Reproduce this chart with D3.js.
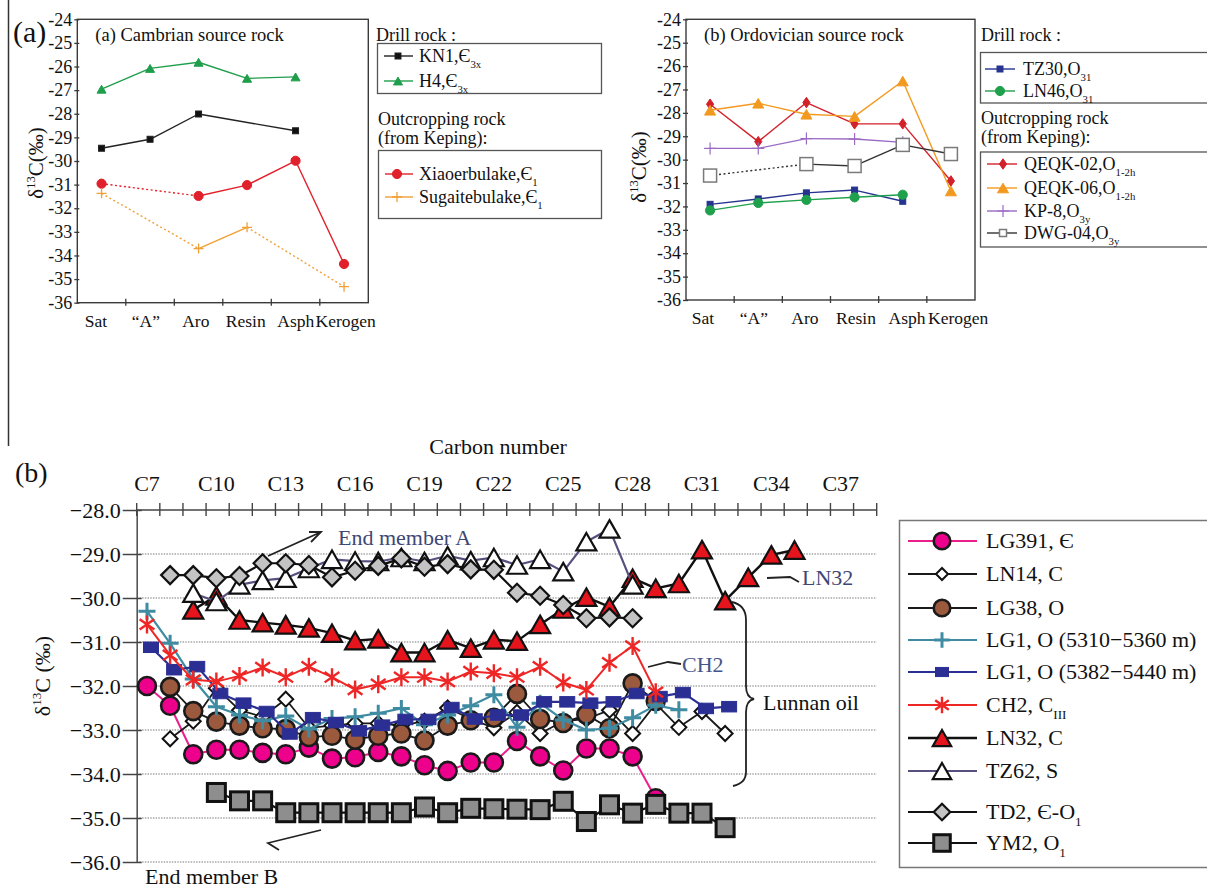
<!DOCTYPE html>
<html>
<head>
<meta charset="utf-8">
<script src="https://cdn.jsdelivr.net/npm/d3@7"></script>
<style>
  body { margin: 0; background: #fff; }
  svg { display: block; }
</style>
</head>
<body>
<svg id="fig" width="1207" height="888"></svg>
<script>
// ---------------- data: bulk-fraction isotopes ----------------
const fractions = ["Sat", "\u201cA\u201d", "Aro", "Resin", "Asph", "Kerogen"];
const fractionTicks = [-24, -25, -26, -27, -28, -29, -30, -31, -32, -33, -34, -35, -36];

// Cambrian source rock (null = not measured)
const kn1 = [-29.46, -29.08, -28.01, null, -28.72, null];
const h4 = [-26.96, -26.08, -25.82, -26.5, -26.44, null];
const xiaoerbulake = [-30.96, null, -31.48, -31.02, -29.99, -34.36];
const sugaitebulake = [-31.37, null, -33.71, -32.81, null, -35.32];

// Ordovician source rock
const tz30 = [-31.91, -31.68, -31.42, -31.30, -31.78, null];
const ln46 = [-32.17, -31.85, -31.72, -31.61, -31.50, null];
const qeqk02 = [-27.63, -29.23, -27.56, -28.47, -28.47, -30.91];
const qeqk06 = [-27.89, -27.59, -28.06, -28.15, -26.64, -31.34];
const kp8 = [-29.52, -29.52, -29.10, -29.12, -29.26, null];
const dwg04 = [-30.68, null, -30.19, -30.27, -29.37, -29.76];

// ---------------- data: n-alkane isotopes by carbon number ----------------
const carbonLabels = [7, 10, 13, 16, 19, 22, 25, 28, 31, 34, 37];
const deltaTicks = [-28, -29, -30, -31, -32, -33, -34, -35, -36];

const lg391From = 7;
const lg391 = [-32.0, -32.45, -33.55, -33.45, -33.45, -33.52, -33.55, -33.4, -33.65, -33.62, -33.5, -33.6,
               -33.8, -33.93, -33.74, -33.74, -33.25, -33.6, -33.92, -33.42, -33.42, -33.6, -34.55];
const ln14From = 8;
const ln14 = [-33.2, -32.8, -32.05, -32.55, -32.7, -32.3, -32.95, -32.9, -32.85, -32.85, -32.9, -32.8,
              -32.5, -32.75, -32.95, -32.6, -33.08, -32.8, -32.75, -32.55, -33.08, -32.4, -32.94, -32.58, -33.08];
const lg38From = 8;
const lg38 = [-32.02, -32.57, -32.81, -32.9, -32.96, -32.98, -33.16, -33.13, -33.22, -33.13, -33.08,
              -33.24, -32.9, -32.78, -32.72, -32.18, -32.75, -32.84, -32.65, -32.96, -31.94, -32.34];
const lg1UpperFrom = 7;
const lg1Upper = [-30.3, -31.03, -31.84, -32.47, -32.66, -32.79, -32.68, -32.98, -32.74, -32.7, -32.62, -32.51,
                  -32.88, -32.66, -32.45, -32.2, -32.94, -32.39, -32.77, -33.0, -32.96, -32.72, -32.44, -32.54];
const lg1LowerFrom = 7;
const lg1Lower = [-31.12, -31.63, -31.56, -32.17, -32.39, -32.58, -33.09, -32.72, -32.83, -33.02, -32.89, -32.76,
                  -32.76, -32.49, -32.75, -32.66, -32.66, -32.36, -32.36, -32.39, -32.36, -32.17, -32.24, -32.15,
                  -32.51, -32.47];
const ch2From = 7;
const ch2 = [-30.6, -31.3, -31.86, -31.9, -31.77, -31.58, -31.8, -31.56, -31.8, -32.08, -31.96, -31.8,
             -31.8, -31.9, -31.67, -31.71, -31.8, -31.56, -31.92, -32.09, -31.47, -31.09, -32.14];
const ln32From = 9;
const ln32 = [-30.27, -29.95, -30.5, -30.56, -30.61, -30.68, -30.8, -30.97, -30.93, -31.24, -31.24, -30.95,
              -31.14, -30.95, -30.98, -30.6, -30.25, -29.98, -30.2, -29.55, -29.78, -29.67, -28.9, -30.06,
              -29.53, -29.02, -28.91];
const tz62From = 9;
const tz62 = [-29.89, -30.08, -29.7, -29.6, -29.55, -29.33, -29.12, -29.16, -29.17, -29.08, -29.17, -29.04,
              -29.15, -29.08, -29.25, -29.12, -29.4, -28.72, -28.43, -29.7];
const td2From = 8;
const td2 = [-29.48, -29.48, -29.55, -29.5, -29.21, -29.21, -29.25, -29.53, -29.38, -29.27, -29.1, -29.29,
             -29.23, -29.35, -29.36, -29.88, -29.95, -30.16, -30.46, -30.44, -30.46];
const ym2From = 10;
const ym2 = [-34.42, -34.61, -34.61, -34.88, -34.88, -34.88, -34.88, -34.88, -34.88, -34.75, -34.88, -34.78,
             -34.79, -34.8, -34.81, -34.62, -35.08, -34.7, -34.89, -34.69, -34.89, -34.89, -35.22];

// ---------------- drawing helpers ----------------
const SERIF = "'Liberation Serif', 'Times New Roman', serif";
const svg = d3.select("#fig");

function drawMarker(g, type, x, y, s, st) {
  let el;
  const h = s * 1.75;
  switch (type) {
    case "circle":
      el = g.append("circle").attr("cx", x).attr("cy", y).attr("r", s); break;
    case "square":
      el = g.append("rect").attr("x", x - s).attr("y", y - s).attr("width", 2 * s).attr("height", 2 * s); break;
    case "rect":
      el = g.append("rect").attr("x", x - s).attr("y", y - s * 0.7).attr("width", 2 * s).attr("height", 1.4 * s); break;
    case "diamond":
      el = g.append("path").attr("d", `M${x},${y - s}L${x + s},${y}L${x},${y + s}L${x - s},${y}Z`); break;
    case "diamondTall":
      el = g.append("path").attr("d", `M${x},${y - s * 1.45}L${x + s},${y}L${x},${y + s * 1.45}L${x - s},${y}Z`); break;
    case "triangle":
      el = g.append("path").attr("d", `M${x},${y - h / 2}L${x + s},${y + h / 2}L${x - s},${y + h / 2}Z`); break;
    case "plus":
      el = g.append("path").attr("d", `M${x - s},${y}H${x + s}M${x},${y - s}V${y + s}`); break;
    case "asterisk": {
      let d = `M${x},${y - s}V${y + s}`;
      [35, -35].forEach(a => {
        const r = a * Math.PI / 180, dx = Math.cos(r) * s, dy = Math.sin(r) * s;
        d += `M${x - dx},${y - dy}L${x + dx},${y + dy}`;
      });
      el = g.append("path").attr("d", d); break;
    }
  }
  el.attr("fill", st.fill || "none")
    .attr("stroke", st.stroke)
    .attr("stroke-width", st.sw)
    .attr("stroke-linejoin", "miter");
}

// text with sub/superscript parts: [[string, "sub"|"sup"|undefined], ...]
function rich(t, parts, fs) {
  let shift = 0;
  parts.forEach(([s, k]) => {
    const target = k === "sub" ? fs * 0.32 : k === "sup" ? -fs * 0.4 : 0;
    t.append("tspan").attr("dy", target - shift).attr("font-size", k ? fs * 0.6 : fs).text(s);
    shift = target;
  });
  return t;
}

function label(g, x, y, parts, fs, opts = {}) {
  const t = g.append("text").attr("x", x).attr("y", y)
    .attr("font-family", SERIF).attr("font-size", fs)
    .attr("fill", opts.fill || "#111")
    .attr("text-anchor", opts.anchor || "start");
  if (opts.italic) t.attr("font-style", "italic");
  if (opts.rotate) t.attr("transform", `rotate(${opts.rotate},${x},${y})`);
  return rich(t, typeof parts === "string" ? [[parts]] : parts, fs);
}

// ---------------- upper panels ----------------
function fractionPanel(p) {
  const g = svg.append("g");
  const x = d3.scaleBand().domain(fractions).range([p.left, p.right]);
  const cx = f => x(f) + x.bandwidth() / 2;
  const y = d3.scaleLinear().domain([-36, -24]).range([p.bottom, p.top]);

  g.append("rect").attr("x", p.left).attr("y", p.top)
    .attr("width", p.right - p.left).attr("height", p.bottom - p.top)
    .attr("fill", "none").attr("stroke", "#3a3a3a").attr("stroke-width", 1.4);

  const ya = g.append("g").attr("transform", `translate(${p.left},0)`)
    .call(d3.axisLeft(y).tickValues(fractionTicks).tickSize(3).tickPadding(2).tickFormat(d => String(d)));
  ya.attr("font-family", SERIF).attr("font-size", 18);
  ya.select(".domain").remove();
  ya.selectAll(".tick line").attr("stroke", "#3a3a3a").attr("stroke-width", 1.3).attr("x1", 2);
  ya.selectAll(".tick text").attr("fill", "#111");

  // fraction boundaries on the bottom edge
  fractions.slice(1).forEach(f => {
    g.append("line").attr("x1", x(f)).attr("x2", x(f))
      .attr("y1", p.bottom - 4).attr("y2", p.bottom + 3)
      .attr("stroke", "#3a3a3a").attr("stroke-width", 1.3);
  });
  // category names sit slightly wider apart than the bands
  const mid = (p.left + p.right) / 2 + p.labelShift;
  fractions.forEach(f => label(g, mid + (cx(f) - (p.left + p.right) / 2) * p.labelSpread, p.bottom + 24, f, 17.5,
    { anchor: "middle" }));

  label(g, p.left + 18, 41, p.title, 18.5);
  label(g, p.ytitleX, p.ytitleY, [["\u03b4"], ["13", "sup"], ["C(\u2030)"]], 21, { anchor: "middle", rotate: -90 });

  p.series.forEach(s => {
    const pts = s.values.map((v, i) => ({ i, v })).filter(d => d.v !== null);
    const line = d3.line().x(d => cx(fractions[d.i])).y(d => y(d.v));
    for (let k = 1; k < pts.length; k++) {
      const a = pts[k - 1], b = pts[k];
      const dotted = s.gapDotted && b.i - a.i > 1;
      g.append("path").attr("d", line([a, b])).attr("fill", "none")
        .attr("stroke", s.color).attr("stroke-width", 1.4)
        .attr("stroke-dasharray", dotted ? "2,2.5" : null);
    }
    pts.forEach(d => drawMarker(g, s.marker, cx(fractions[d.i]), y(d.v), s.size,
      { fill: s.fill, stroke: s.mstroke || s.color, sw: s.msw || 1 }));
  });

  // legends
  p.legends.forEach(L => {
    if (L.heading) L.heading.forEach((h, k) => label(g, L.hx, L.hy + k * 19, h, 18));
    g.append("rect").attr("x", L.box[0]).attr("y", L.box[1]).attr("width", L.box[2]).attr("height", L.box[3])
      .attr("fill", "none").attr("stroke", "#555").attr("stroke-width", 1.3);
    L.items.forEach((it, k) => {
      const s = p.series[it.series];
      const yy = L.rows[k];
      g.append("line").attr("x1", L.lx[0]).attr("x2", L.lx[1]).attr("y1", yy).attr("y2", yy)
        .attr("stroke", s.color).attr("stroke-width", 1.4);
      drawMarker(g, s.marker, L.mx, yy, s.legendSize || s.size,
        { fill: s.legendFill || s.fill, stroke: s.mstroke || s.color, sw: s.msw || 1 });
      label(g, L.tx, yy + 6, it.text, 18);
    });
  });
}

fractionPanel({
  left: 77.3, right: 368.3, top: 19.3, bottom: 302.7, labelSpread: 1.03, labelShift: -2,
  title: "(a) Cambrian source rock", ytitleX: 43, ytitleY: 163,
  series: [
    { values: kn1, color: "#222", marker: "square", size: 3, fill: "#111", gapDotted: false },
    { values: h4, color: "#1f9e4b", marker: "triangle", size: 4.5, fill: "#1f9e4b" },
    { values: xiaoerbulake, color: "#e0202a", marker: "circle", size: 4.6, fill: "#e0202a", gapDotted: true },
    { values: sugaitebulake, color: "#f0a035", marker: "plus", size: 5, msw: 1.3, gapDotted: true }
  ],
  legends: [
    { heading: ["Drill rock :"], hx: 376, hy: 41, box: [377.5, 43.5, 224, 50],
      rows: [56, 81], lx: [384, 413], mx: 398, tx: 419,
      items: [{ series: 0, text: [["KN1,\u0404"], ["3x", "sub"]] }, { series: 1, text: [["H4,\u0404"], ["3x", "sub"]] }] },
    { heading: ["Outcropping rock", "(from Keping):"], hx: 378, hy: 125, box: [378.5, 150.5, 223, 68],
      rows: [174, 197], lx: [385, 413], mx: 397, tx: 419,
      items: [{ series: 2, text: [["Xiaoerbulake,\u0404"], ["1", "sub"]] }, { series: 3, text: [["Sugaitebulake,\u0404"], ["1", "sub"]] }] }
  ]
});

fractionPanel({
  left: 686, right: 975, top: 19.3, bottom: 300, labelSpread: 1.06, labelShift: 0,
  title: "(b) Ordovician source rock", ytitleX: 646, ytitleY: 167,
  series: [
    { values: tz30, color: "#27348f", marker: "square", size: 3, fill: "#27348f", gapDotted: true },
    { values: ln46, color: "#1fa04d", marker: "circle", size: 4.6, fill: "#1fa04d", gapDotted: true },
    { values: qeqk02, color: "#d3212a", marker: "diamondTall", size: 3.6, fill: "#d3212a", gapDotted: true },
    { values: qeqk06, color: "#f29a1f", marker: "triangle", size: 5.5, fill: "#f29a1f", gapDotted: true },
    { values: kp8, color: "#9a6bc4", marker: "plus", size: 6, msw: 1.2, gapDotted: true },
    { values: dwg04, color: "#333", marker: "square", size: 6.5, fill: "#fff", mstroke: "#7a7a7a", msw: 1.5,
      legendSize: 3.5, gapDotted: true }
  ],
  legends: [
    { heading: ["Drill rock :"], hx: 981, hy: 41, box: [980.5, 52.5, 240, 50.5],
      rows: [69, 91], lx: [985, 1015], mx: 1000, tx: 1023,
      items: [{ series: 0, text: [["TZ30,O"], ["31", "sub"]] }, { series: 1, text: [["LN46,O"], ["31", "sub"]] }] },
    { heading: ["Outcropping rock", "(from Keping):"], hx: 981, hy: 124, box: [980.5, 152, 240, 95],
      rows: [164, 188, 211, 233], lx: [987, 1017], mx: 1003, tx: 1024,
      items: [{ series: 2, text: [["QEQK-02,O"], ["1-2h", "sub"]] }, { series: 3, text: [["QEQK-06,O"], ["1-2h", "sub"]] },
              { series: 4, text: [["KP-8,O"], ["3y", "sub"]] }, { series: 5, text: [["DWG-04,O"], ["3y", "sub"]] }] }
  ]
});

// panel letters and frame line
label(svg, 13, 42, "(a)", 30);
svg.append("line").attr("x1", 8.5).attr("x2", 8.5).attr("y1", 0).attr("y2", 446)
  .attr("stroke", "#333").attr("stroke-width", 1.5);
label(svg, 15, 482, "(b)", 28);

// ---------------- lower panel: n-alkanes ----------------
const bx = d3.scaleLinear().domain([6.555, 38.555]).range([136.7, 876.7]);
const by = d3.scaleLinear().domain([-36, -28]).range([862, 510]);
const lower = svg.append("g");

// dotted grid
deltaTicks.filter(v => v !== -28).forEach(v => {
  lower.append("line").attr("x1", bx(6.555)).attr("x2", bx(38.555)).attr("y1", by(v)).attr("y2", by(v))
    .attr("stroke", "#a8a8a8").attr("stroke-width", 1.3).attr("stroke-dasharray", "1.5,1.2");
});

// y axis
const yAx = lower.append("g").attr("transform", `translate(${bx(6.555)},0)`)
  .call(d3.axisLeft(by).tickValues(deltaTicks).tickSizeInner(14).tickSizeOuter(0).tickPadding(2).tickFormat(d3.format(".1f")));
yAx.attr("font-family", SERIF).attr("font-size", 22);
yAx.select(".domain").attr("stroke", "#555").attr("stroke-width", 1.6);
yAx.selectAll(".tick line").attr("stroke", "#444").attr("stroke-width", 1.5).attr("x1", 5);
yAx.selectAll(".tick text").attr("fill", "#111");

// carbon-number axis on top
lower.append("line").attr("x1", bx(6.555)).attr("x2", bx(38.555)).attr("y1", by(-28)).attr("y2", by(-28))
  .attr("stroke", "#444").attr("stroke-width", 1.5);
d3.range(6.555, 38.6, 1).forEach(c => {
  lower.append("line").attr("x1", bx(c)).attr("x2", bx(c)).attr("y1", by(-28) - 7).attr("y2", by(-28) + 6)
    .attr("stroke", "#444").attr("stroke-width", 1.4);
});
carbonLabels.forEach(c => label(lower, bx(c), 491, "C" + c, 22, { anchor: "middle" }));
label(lower, 498, 454, "Carbon number", 22, { anchor: "middle" });
label(lower, 50, 676, [["\u03b4"], ["13", "sup"], ["C (\u2030)"]], 22, { anchor: "middle", rotate: -90 });

const alkaneSeries = [
  { name: [["LG391, \u0404"]], from: lg391From, values: lg391, line: "#ea1f8c", lw: 2,
    marker: "circle", size: 9, fill: "#ec008c", stroke: "#1a1a1a", sw: 2.6 },
  { name: [["LN14, C"]], from: ln14From, values: ln14, line: "#1a1a1a", lw: 1.8,
    marker: "diamond", size: 7.5, fill: "#fff", stroke: "#111", sw: 2 },
  { name: [["LG38, O"]], from: lg38From, values: lg38, line: "#1a1a1a", lw: 1.8,
    marker: "circle", size: 9, fill: "#9b5a3e", stroke: "#1a1a1a", sw: 2.6 },
  { name: [["LG1, O (5310\u22125360 m)"]], from: lg1UpperFrom, values: lg1Upper, line: "#3f8ba2", lw: 2.2,
    marker: "plus", size: 8.5, stroke: "#3f8ba2", sw: 3 },
  { name: [["LG1, O (5382\u22125440 m)"]], from: lg1LowerFrom, values: lg1Lower, line: "#2b2f94", lw: 2.2, dx: 4,
    marker: "rect", size: 7.5, fill: "#2b2f94", stroke: "#2b2f94", sw: 1 },
  { name: [["CH2, C"], ["III", "sub"]], from: ch2From, values: ch2, line: "#ee2626", lw: 2,
    marker: "asterisk", size: 9, stroke: "#ee2626", sw: 2.4 },
  { name: [["LN32, C"]], from: ln32From, values: ln32, line: "#111", lw: 2.4,
    marker: "triangle", size: 10, fill: "#e5141d", stroke: "#111", sw: 2.2 },
  { name: [["TZ62, S"]], from: tz62From, values: tz62, line: "#56507f", lw: 2.2,
    marker: "triangle", size: 10, fill: "#fff", stroke: "#111", sw: 2.2 },
  { name: [["TD2, \u0404-O"], ["1", "sub"]], from: td2From, values: td2, line: "#111", lw: 2.2,
    marker: "diamond", size: 9, fill: "#c3c3c3", stroke: "#111", sw: 2.2 },
  { name: [["YM2, O"], ["1", "sub"]], from: ym2From, values: ym2, line: "#111", lw: 2.2,
    marker: "square", size: 9, fill: "#8e8e8e", stroke: "#111", sw: 3 }
];

alkaneSeries.forEach(s => {
  const g = lower.append("g");
  const pts = s.values.map((v, i) => ({ c: s.from + i, v }));
  const px = d => bx(d.c) + (s.dx || 0);
  g.append("path").attr("d", d3.line().x(px).y(d => by(d.v))(pts))
    .attr("fill", "none").attr("stroke", s.line).attr("stroke-width", s.lw).attr("stroke-linejoin", "round");
  pts.forEach(d => drawMarker(g, s.marker, px(d), by(d.v), s.size, s));
});

// annotations
const ann = lower.append("g").attr("fill", "none").attr("stroke", "#222").attr("stroke-width", 1.8);
ann.append("path").attr("d", "M268,556L321,532M309,532L321,532L311,542");
label(lower, 338, 545, "End member A", 22, { fill: "#3e4775" });
ann.append("path").attr("d", "M321,830L268,843L279,850");
label(lower, 145, 884, "End member B", 22);
ann.append("path").attr("d", "M648,667L668,662L681,664");
label(lower, 682, 672, "CH2", 22, { fill: "#46548a" });
ann.append("path").attr("d", "M767,578L790,577L799,582");
label(lower, 802, 585, "LN32", 22, { fill: "#3e4775" });
ann.append("path").attr("d",
  "M732,602C741,604 746,610 746,620L746,686C746,694 749,698 754,699C749,700 746,704 746,712L746,772C746,780 742,784 733,786");
label(lower, 763, 710, "Lunnan oil", 22);

// legend
const lg = lower.append("g");
lg.append("rect").attr("x", 899.5).attr("y", 520.5).attr("width", 320).attr("height", 347)
  .attr("fill", "#fff").attr("stroke", "#777").attr("stroke-width", 1.5);
const legendRows = [541, 574, 608, 640, 672, 705, 738, 771, 812, 843];
alkaneSeries.forEach((s, k) => {
  const yy = legendRows[k];
  lg.append("line").attr("x1", 908).attr("x2", 977).attr("y1", yy).attr("y2", yy)
    .attr("stroke", s.line).attr("stroke-width", s.lw);
  const sz = s.marker === "rect" ? 6.5 : s.marker === "diamond" && s.fill === "#fff" ? 6 : s.size * 0.92;
  drawMarker(lg, s.marker, 942, yy, sz, s);
  label(lg, 986, yy + 7, s.name, 22);
});
</script>
</body>
</html>
